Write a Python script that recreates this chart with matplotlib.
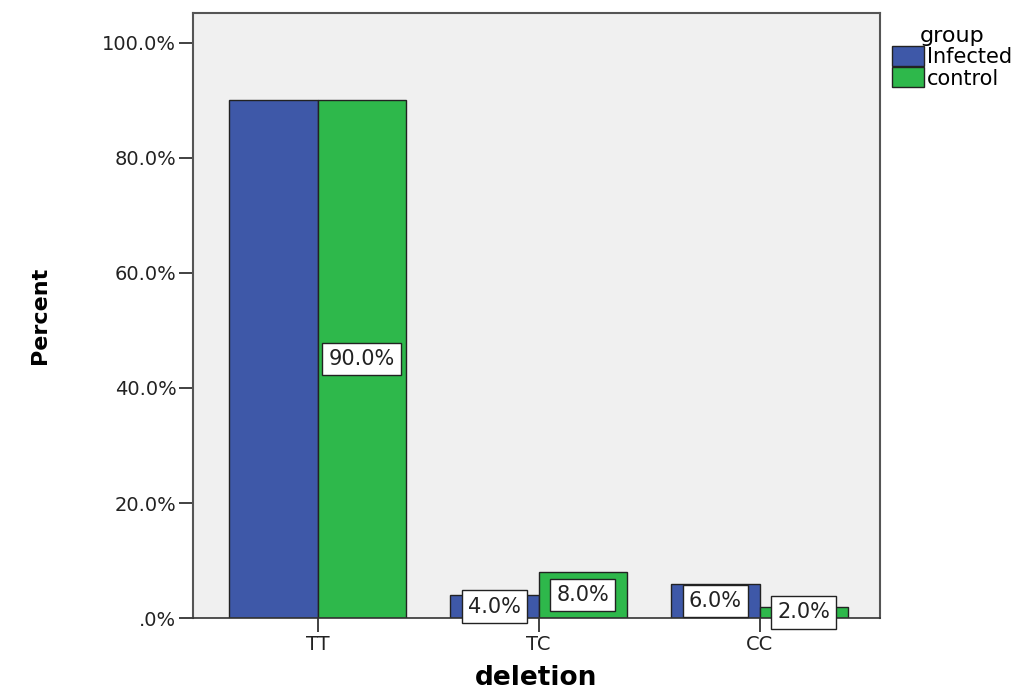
import matplotlib
matplotlib.use("Agg")
import matplotlib.pyplot as plt
import numpy as np

# genotype percentages by group
categories = ['TT', 'TC', 'CC']
groups = ['Infected', 'control']
infected = [90.0, 4.0, 6.0]
control = [90.0, 8.0, 2.0]
yticks = [0, 20, 40, 60, 80, 100]
ytick_labels = ['.0%', '20.0%', '40.0%', '60.0%', '80.0%', '100.0%']

blue = '#3e58a8'
green = '#2eb84b'

fig = plt.figure(figsize=(10.31, 6.93), dpi=100)
ax = fig.add_axes([0.1872, 0.1082, 0.8535 - 0.1872, 0.9812 - 0.1082])
ax.set_facecolor('#f0f0f0')

x = np.arange(len(categories))
w = 0.4
ax.bar(x - w / 2, infected, w, color=blue, edgecolor='#222222', linewidth=1, label=groups[0])
ax.bar(x + w / 2, control, w, color=green, edgecolor='#222222', linewidth=1, label=groups[1])

box = dict(boxstyle='square,pad=0.3', facecolor='white', edgecolor='#222222', linewidth=1)
for i in range(len(categories)):
    # the TT infected label is hidden behind the control one in the original
    if i != 0:
        ax.text(x[i] - w / 2, infected[i] / 2, '%.1f%%' % infected[i], ha='center', va='center',
                fontsize=15, color='#222222', bbox=box, zorder=5)
    ax.text(x[i] + w / 2, control[i] / 2, '%.1f%%' % control[i], ha='center', va='center',
            fontsize=15, color='#222222', bbox=box, zorder=5)

ax.set_xlim(-0.564, 2.545)
ax.set_ylim(0, 105.2)
ax.set_xticks(x)
ax.set_xticklabels(categories, fontsize=14, color='#222222')
ax.set_yticks(yticks)
ax.set_yticklabels(ytick_labels, fontsize=14, color='#222222')
ax.tick_params(axis='both', direction='out', length=10, width=1.3, color='#333333', pad=2)

for s in ['left', 'top', 'right']:
    ax.spines[s].set_color('#555555')
    ax.spines[s].set_linewidth(1.5)
ax.spines['bottom'].set_color('#333333')
ax.spines['bottom'].set_linewidth(1.2)

ax.set_xlabel('deletion', fontsize=19, fontweight='bold', labelpad=8)
ax.set_ylabel('Percent', fontsize=16, fontweight='bold', labelpad=38)

leg = ax.legend(title='group', loc='upper left', bbox_to_anchor=(1.0, 1.0), frameon=False,
                fontsize=15, title_fontsize=16, handlelength=1.5, handleheight=1.1,
                handletextpad=0.15, labelspacing=0.02, borderaxespad=0.2)
for h in leg.legend_handles:
    h.set_edgecolor('#222222')

fig.savefig('out.png', dpi=100)
